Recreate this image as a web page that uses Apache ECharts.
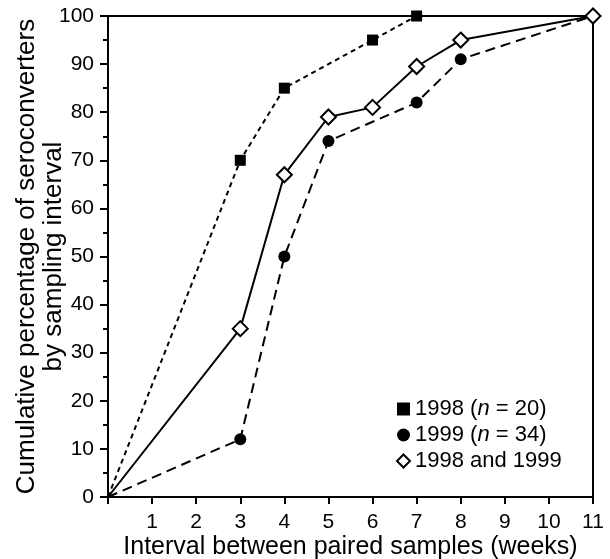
<!DOCTYPE html>
<html>
<head>
<meta charset="utf-8">
<script src="https://cdn.jsdelivr.net/npm/echarts@6/dist/echarts.min.js"></script>
<style>
  html, body { margin: 0; padding: 0; background: #fff; }
  #chart { width: 610px; height: 559px; }
</style>
</head>
<body>
<div id="chart"></div>
<script>
// data
const weeks1998 = [0, 3, 4, 6, 7];
const pct1998 = [0, 70, 85, 95, 100];

const weeks1999 = [0, 3, 4, 5, 7, 8, 11];
const pct1999 = [0, 12, 50, 74, 82, 91, 100];

const weeksBoth = [0, 3, 4, 5, 6, 7, 8, 11];
const pctBoth = [0, 35, 67, 79, 81, 89.5, 95, 100];

const seriesNames = ['1998', '1999', 'both'];

const font = 'Liberation Sans, Arial, Helvetica, sans-serif';

// first point (origin) has no marker
const toPoints = (xs, ys) => xs.map((x, i) => {
  const p = { value: [x, ys[i]] };
  if (i === 0) p.symbol = 'none';
  return p;
});

const chart = echarts.init(document.getElementById('chart'));

const option = {
  animation: false,
  grid: {
    left: 108, right: 17, top: 16, bottom: 62,
    outerBoundsMode: 'none',
    show: true, borderColor: '#000', borderWidth: 2, backgroundColor: 'transparent'
  },
  legend: {
    orient: 'vertical',
    left: 391, top: 393,
    itemWidth: 13, itemHeight: 13, itemGap: 4,
    textStyle: {
      fontFamily: font, fontSize: 22, color: '#000',
      rich: { i: { fontFamily: font, fontSize: 22, fontStyle: 'italic', color: '#000' } }
    },
    formatter: (name) => {
      if (name === '1998') return '1998 ({i|n} = 20)';
      if (name === '1999') return '1999 ({i|n} = 34)';
      return '1998 and 1999';
    },
    data: [
      { name: '1998', icon: 'rect', itemStyle: { color: '#000' } },
      { name: '1999', icon: 'circle', itemStyle: { color: '#000' } },
      { name: 'both', icon: 'diamond', itemStyle: { color: '#fff', borderColor: '#000', borderWidth: 2 } }
    ]
  },
  xAxis: {
    type: 'value', min: 0, max: 11, interval: 1,
    name: 'Interval between paired samples (weeks)',
    nameLocation: 'middle', nameGap: 38, nameMoveOverlap: false,
    nameTextStyle: { fontFamily: font, fontSize: 25, color: '#000' },
    axisLine: { show: true, onZero: false, lineStyle: { color: '#000', width: 2 } },
    axisTick: { show: true, length: 7, lineStyle: { color: '#000', width: 2 } },
    axisLabel: {
      fontFamily: font, fontSize: 21, color: '#000', margin: 15,
      formatter: (v) => (v === 0 ? '' : v)
    },
    splitLine: { show: false }
  },
  yAxis: {
    type: 'value', min: 0, max: 100, interval: 10,
    name: 'Cumulative percentage of seroconverters\nby sampling interval',
    nameLocation: 'middle', nameGap: 41, nameMoveOverlap: false,
    nameTextStyle: { fontFamily: font, fontSize: 26, color: '#000', lineHeight: 27 },
    axisLine: { show: true, lineStyle: { color: '#000', width: 2 } },
    axisTick: { show: true, length: 8, lineStyle: { color: '#000', width: 2 } },
    minorTick: { show: true, splitNumber: 2, length: 5, lineStyle: { color: '#000', width: 2 } },
    axisLabel: { fontFamily: font, fontSize: 21, color: '#000', margin: 14 },
    splitLine: { show: false }
  },
  series: [
    {
      name: seriesNames[0], type: 'line', clip: false,
      data: toPoints(weeks1998, pct1998),
      symbol: 'rect', symbolSize: 11,
      itemStyle: { color: '#000' },
      lineStyle: { color: '#000', width: 2, type: [5, 4] }
    },
    {
      name: seriesNames[1], type: 'line', clip: false,
      data: toPoints(weeks1999, pct1999),
      symbol: 'circle', symbolSize: 12,
      itemStyle: { color: '#000' },
      lineStyle: { color: '#000', width: 2, type: [10, 6] }
    },
    {
      name: seriesNames[2], type: 'line', clip: false,
      data: toPoints(weeksBoth, pctBoth),
      symbol: 'diamond', symbolSize: 15,
      itemStyle: { color: '#fff', borderColor: '#000', borderWidth: 2 },
      lineStyle: { color: '#000', width: 2 }
    }
  ]
};

chart.setOption(option);
</script>
</body>
</html>
